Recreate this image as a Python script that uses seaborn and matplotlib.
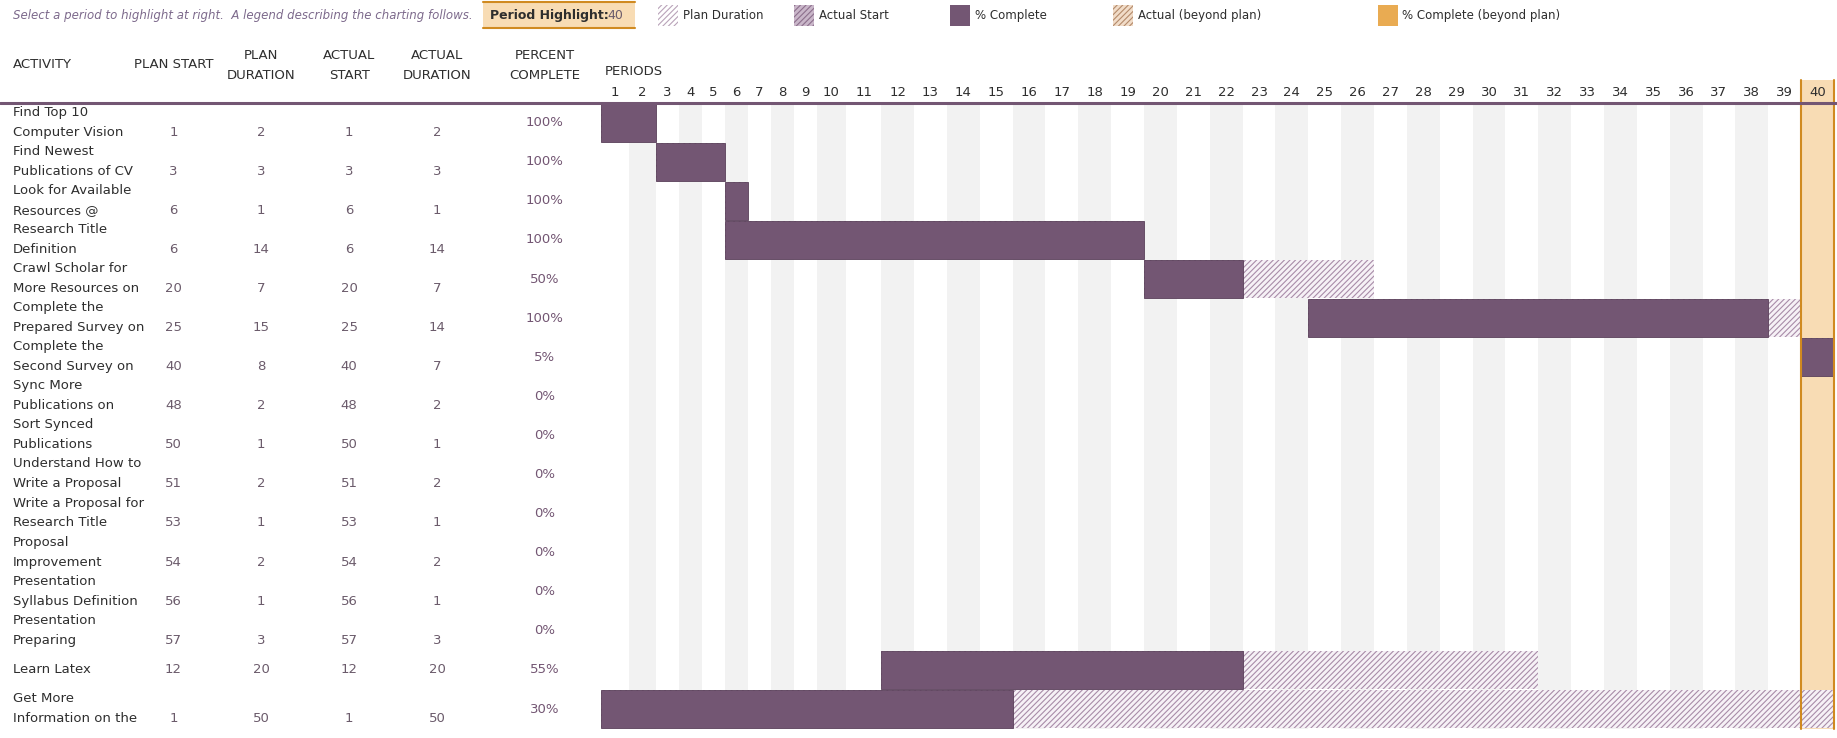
import matplotlib.pyplot as plt
import matplotlib.patches as mpatches
import numpy as np
import seaborn as sns

sns.set_theme(style="white")
plt.rcParams['font.family'] = ['Liberation Sans Narrow', 'DejaVu Sans']
plt.rcParams['hatch.linewidth'] = 0.8

# ---- data ----
# activity names as they wrap (two visible lines) in the sheet
activity_top = ["Find Top 10", "Find Newest", "Look for Available", "Research Title",
                "Crawl Scholar for", "Complete the", "Complete the", "Sync More",
                "Sort Synced", "Understand How to", "Write a Proposal for", "Proposal",
                "Presentation", "Presentation", "", "Get More"]
activity_bottom = ["Computer Vision", "Publications of CV", "Resources @", "Definition",
                   "More Resources on", "Prepared Survey on", "Second Survey on", "Publications on",
                   "Publications", "Write a Proposal", "Research Title", "Improvement",
                   "Syllabus Definition", "Preparing", "Learn Latex", "Information on the"]
plan_start = [1, 3, 6, 6, 20, 25, 40, 48, 50, 51, 53, 54, 56, 57, 12, 1]
plan_dur = [2, 3, 1, 14, 7, 15, 8, 2, 1, 2, 1, 2, 1, 3, 20, 50]
actual_start = [1, 3, 6, 6, 20, 25, 40, 48, 50, 51, 53, 54, 56, 57, 12, 1]
actual_dur = [2, 3, 1, 14, 7, 14, 7, 2, 1, 2, 1, 2, 1, 3, 20, 50]
pct = [100, 100, 100, 100, 50, 100, 5, 0, 0, 0, 0, 0, 0, 0, 55, 30]
periods = list(range(1, 41))
highlight = 40

# ---- layout (in screen units of a 1568 x 630 grid) ----
col_w = [24, 23] + [19.6] * 7 + [25, 30] + [28.04] * 29
edges = 513 + np.concatenate([[0], np.cumsum(col_w)])
row_top, row_h = 88, 33.375
purple = '#735673'
peach = '#f8dcb4'
orange = '#d08a20'
txt = '#2e2e2e'
num = '#6b5b6b'

fig = plt.figure(figsize=(18.37, 7.38), dpi=100)
ax = fig.add_axes([0, 0, 1, 1])
ax.set_xlim(0, 1568)
ax.set_ylim(630, 0)
ax.axis('off')

n = len(plan_start)
grid_bottom = row_top + n * row_h
# alternating columns
for p in periods:
    if p % 2 == 0 and p != highlight:
        ax.add_patch(mpatches.Rectangle((edges[p - 1], row_top), col_w[p - 1], n * row_h,
                                        color='#f2f2f2', lw=0, zorder=0))
# highlight column
hx0, hx1 = edges[highlight - 1], edges[highlight]
ax.add_patch(mpatches.Rectangle((hx0, row_top), hx1 - hx0, n * row_h, color=peach, lw=0, zorder=0))
ax.add_patch(mpatches.Rectangle((hx0, 68), hx1 - hx0, 20, color=peach, lw=0, zorder=0))
for xx in (hx0, hx1):
    ax.plot([xx, xx], [68, grid_bottom], color=orange, lw=1.5, zorder=5)


def span(s, d):
    a = s - 1
    b = min(s - 1 + d, len(periods))
    if a >= len(periods):
        return None
    return edges[a], edges[b] - edges[a]


for i in range(n):
    yc = row_top + i * row_h + row_h / 2
    sp = span(plan_start[i], plan_dur[i])
    if sp:
        ax.barh(yc, sp[1], left=sp[0], height=row_h - 1, color='#f6f1f6',
                edgecolor='#a88ca8', hatch='//////', lw=0, zorder=2)
    if pct[i] > 0:
        done = max(int(actual_dur[i] * pct[i] / 100), 1)
        sp = span(actual_start[i], done)
        if sp:
            ax.barh(yc, sp[1], left=sp[0], height=row_h - 1, color=purple,
                    edgecolor='#5a405a', lw=0.6, zorder=3)

# header
ax.plot([0, 1568], [row_top, row_top], color=purple, lw=2.2, zorder=6)
hs = dict(fontsize=9.5, color=txt, va='center')
ax.text(11, 55, "ACTIVITY", ha='left', **hs)
ax.text(148, 55, "PLAN START", ha='center', **hs)
for x, lab in [(223, "PLAN\nDURATION"), (298, "ACTUAL\nSTART"), (373, "ACTUAL\nDURATION"),
               (465, "PERCENT\nCOMPLETE")]:
    ax.text(x, 56, lab, ha='center', linespacing=1.7, **hs)
ax.text(516, 61, "PERIODS", ha='left', **hs)
for p in periods:
    ax.text((edges[p - 1] + edges[p]) / 2, 79, str(p), ha='center', **hs)

# table rows
num_dy = [8] * 14 + [0, 8]
for i in range(n):
    yc = row_top + i * row_h + row_h / 2
    ny = yc + num_dy[i]
    ax.text(465, yc, f"{pct[i]}%", ha='center', va='center', fontsize=9.5, color=purple)
    for x, v in [(148, plan_start[i]), (223, plan_dur[i]), (298, actual_start[i]), (373, actual_dur[i])]:
        ax.text(x, ny, str(v), ha='center', va='center', fontsize=9.5, color=num)
    ax.text(11, ny, activity_bottom[i], ha='left', va='center', fontsize=9.5, color=txt)
    ax.text(11, ny - 17, activity_top[i], ha='left', va='center', fontsize=9.5, color=txt)

# top line: note, highlight box, legend
ax.text(11, 13, "Select a period to highlight at right.  A legend describing the charting follows.",
        fontsize=8.5, style='italic', color='#7d6a8c', va='center')
ax.add_patch(mpatches.Rectangle((412, 2), 130, 22, color=peach, lw=0))
ax.plot([412, 542], [2, 2], color=orange, lw=1.5)
ax.plot([412, 542], [24, 24], color=orange, lw=1.5)
ax.text(418, 13, "Period Highlight:", fontsize=9, fontweight='bold', color=txt, va='center')
ax.text(532, 13, str(highlight), fontsize=9, color=num, va='center', ha='right')

legend = [(562, "Plan Duration", dict(facecolor='white', edgecolor='#b9a3b9', hatch='//////')),
          (678, "Actual Start", dict(facecolor='#c9b6c9', edgecolor='#8c6f8c', hatch='//////')),
          (811, "% Complete", dict(facecolor=purple, edgecolor=purple)),
          (950, "Actual (beyond plan)", dict(facecolor='#f1dcc8', edgecolor='#b48a6a', hatch='//////')),
          (1176, "% Complete (beyond plan)", dict(facecolor='#e9ab52', edgecolor='#e9ab52'))]
for x, lab, st in legend:
    ax.add_patch(mpatches.Rectangle((x, 4), 17, 18, lw=0, **st))
    ax.text(x + 21, 13, lab, fontsize=8.5, color=txt, va='center')

fig.savefig("out.png", dpi=100)
